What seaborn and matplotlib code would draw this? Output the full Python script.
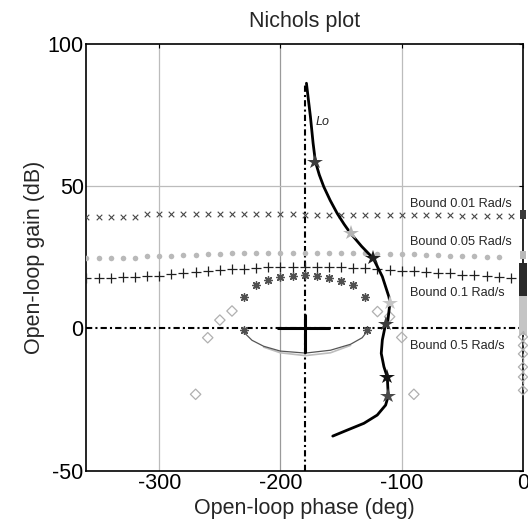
import numpy as np
import pandas as pd
import matplotlib
matplotlib.use("Agg")
import matplotlib.pyplot as plt
import seaborn as sns

# ---------------- data ----------------
# Bound 0.01 rad/s ('x' markers)
b001_phase = [-360, -350, -340, -330, -320, -310, -300, -290, -280, -270, -260, -250,
              -240, -230, -220, -210, -200, -190, -180, -170, -160, -150, -140, -130,
              -120, -110, -100, -90, -80, -70, -60, -50, -40, -30, -20, -10]
b001_gain = [39.3, 39.3, 39.3, 39.3, 39.3, 40.1, 40.1, 40.1, 40.1, 40.1, 40.1, 40.1,
             40.1, 40.1, 40.1, 40.1, 40.1, 40.1, 40.0, 39.9, 39.9, 39.9, 39.9, 39.9,
             39.9, 39.9, 39.9, 39.9, 39.9, 39.9, 39.9, 39.6, 39.6, 39.6, 39.5, 39.5]

# Bound 0.05 rad/s (dots)
b005_phase = [-360, -350, -340, -330, -320, -310, -300, -290, -280, -270, -260, -250,
              -240, -230, -220, -210, -200, -190, -180, -170, -160, -150, -140, -130,
              -120, -110, -100, -90, -80, -70, -60, -50, -40, -30, -20]
b005_gain = [24.8, 24.8, 24.8, 24.8, 24.8, 25.3, 25.3, 25.4, 25.7, 25.9, 26.1, 26.1,
             26.4, 26.4, 26.5, 26.5, 26.5, 26.5, 26.5, 26.5, 26.5, 26.5, 26.4, 26.4,
             26.3, 26.2, 26.1, 26.0, 25.9, 25.8, 25.6, 25.5, 25.3, 25.1, 25.0]

# Bound 0.1 rad/s ('+' markers)
b01_phase = b001_phase
b01_gain = [17.6, 17.6, 17.8, 18.2, 18.2, 18.5, 18.5, 19.0, 19.3, 19.7, 20.3, 20.5,
            20.7, 21.0, 21.1, 21.5, 21.5, 21.5, 21.5, 21.5, 21.5, 21.5, 21.1, 21.1,
            20.7, 20.5, 20.2, 20.2, 19.9, 19.5, 19.3, 18.9, 18.7, 18.3, 18.1, 17.8]

# Bound 0.5 rad/s (asterisks, closed by lower arc)
b05_phase = [-230, -230, -220, -210, -200, -190, -180, -170, -160, -150, -140, -130, -129]
b05_gain = [-0.6, 10.9, 15.1, 16.9, 17.9, 18.4, 18.6, 18.4, 17.8, 16.8, 15.1, 11.0, -0.6]
arc_phase = [-230.4, -223.5, -213.9, -200.1, -179.4, -158.8, -142.2, -132.6, -129.0]
arc_gain = [-1.3, -4.2, -6.3, -8.0, -8.7, -7.7, -5.6, -3.3, -1.3]
arc2_phase = [-213.9, -200.1, -179.4, -158.8, -142.2]
arc2_gain = [-6.6, -8.6, -9.6, -8.6, -6.0]

# Diamonds
dia_phase = [-240, -250, -260, -270, -120, -110, -100, -90]
dia_gain = [6.1, 2.9, -3.3, -23.2, 5.9, 4.1, -3.2, -23.2]

# Stacked bound points at phase 0 (right edge)
edge_x_gain = [40.6, 40.0, 39.4]
edge_dot_gain = [26.3, 25.8, 25.3]
edge_plus_gain = [21.6, 20.6, 19.6, 18.6, 17.6, 16.6, 15.6, 14.6, 13.6, 12.6, 11.6, 10.8]
edge_sq_gain = [10.0, 8.6, 7.2, 5.8, 4.4, 3.0, 1.6, 0.2, -1.0]
edge_dia_gain = [-3.0, -6.0, -9.0, -13.6, -17.1, -21.8]

# Open-loop Lo
lo_phase = [-178.6, -175.3, -173.1, -171.2, -168.0, -164.3, -159.0, -153.2, -147.5, -142.2,
            -133.0, -123.5, -116.0, -110.6, -109.7, -111.4, -113.3, -116.0, -116.9, -114.7,
            -111.9, -111.1, -113.3, -120.2, -131.2, -145.0, -156.9]
lo_gain = [86.2, 74.4, 65.1, 58.6, 54.0, 49.8, 45.0, 40.4, 36.6, 33.4,
           28.8, 24.6, 18.2, 11.1, 9.0, 2.9, 1.5, -4.1, -8.8, -13.5,
           -17.2, -23.8, -27.0, -30.5, -33.4, -35.8, -37.9]
star_phase = [-171.2, -142.2, -123.5, -109.7, -113.3, -111.9, -111.1]
star_gain = [58.6, 33.4, 24.6, 9.0, 1.5, -17.2, -23.8]
star_color = ["#3c3c3c", "#b4b4b4", "#1e1e1e", "#c4c4c4", "#3c3c3c", "#141414", "#4a4a4a"]

# Critical point cross
cross_h_phase = [-201.7, -160.4]
cross_h_gain = [0, 0]
cross_v_phase = [-180, -180]
cross_v_gain = [4.6, -8.3]

# Reference dash-dot lines
vline_gain = [-50, 86.2]
hline_phase = [-360, 0]

bound_labels = ["Bound 0.01 Rad/s", "Bound 0.05 Rad/s", "Bound 0.1 Rad/s", "Bound 0.5 Rad/s"]
bound_label_gain = [43.7, 30.5, 12.3, -6.2]

xticks = [-300, -200, -100, 0]
yticks = [-50, 0, 50, 100]

# ---------------- figure ----------------
sns.set_theme(style="white")
plt.rcParams["font.family"] = ["Liberation Sans", "DejaVu Sans"]
plt.rcParams["axes.unicode_minus"] = False

fig = plt.figure(figsize=(5.28, 5.27), dpi=100)
ax = fig.add_axes([0.1638, 0.1072, 0.8267, 0.8093])

ax.set_xlim(-360, 0)
ax.set_ylim(-50, 100)

# grid
for xv, c in zip([-300, -200, -100], ["#bcbcbc", "#9a9a9a", "#bcbcbc"]):
    ax.axvline(xv, color=c, lw=0.9, zorder=0)
ax.axhline(50, color="#bcbcbc", lw=0.9, zorder=0)

dashdot = (0, (3, 1.5, 1, 1.5))
sns.lineplot(x=[-180, -180], y=vline_gain, ax=ax, color="black", lw=1.5,
             linestyle=dashdot, estimator=None, sort=False, zorder=2)
sns.lineplot(x=hline_phase, y=[0, 0], ax=ax, color="black", lw=1.5,
             linestyle=dashdot, estimator=None, sort=False, zorder=2)

# bounds
sns.scatterplot(x=b001_phase, y=b001_gain, ax=ax, marker="x", color="#484848",
                s=16, linewidth=0.8, zorder=3)
sns.scatterplot(x=b005_phase, y=b005_gain, ax=ax, marker="o", color="#b9b9b9",
                s=16, linewidth=0, zorder=3)
sns.scatterplot(x=b01_phase, y=b01_gain, ax=ax, marker="+", color="#202020",
                s=45, linewidth=0.9, zorder=3)

# bound 0.5 arcs
sns.lineplot(x=arc2_phase, y=arc2_gain, ax=ax, color="#bdbdbd", lw=1.2,
             estimator=None, sort=False, zorder=3)
sns.lineplot(x=arc_phase, y=arc_gain, ax=ax, color="#555555", lw=0.9,
             estimator=None, sort=False, zorder=3)
sns.scatterplot(x=b05_phase, y=b05_gain, ax=ax, marker=(8, 2, 0), color="#505050",
                s=30, linewidth=1.0, zorder=3)
sns.scatterplot(x=dia_phase, y=dia_gain, ax=ax, marker="D", s=28,
                facecolor="none", edgecolor="#b0b0b0", linewidth=0.9, zorder=3)

# stacked points at the right edge
n = len
sns.scatterplot(x=[0] * n(edge_x_gain), y=edge_x_gain, ax=ax, marker="s", color="#3a3a3a",
                s=22, linewidth=0, zorder=4, clip_on=False)
sns.scatterplot(x=[0] * n(edge_dot_gain), y=edge_dot_gain, ax=ax, marker="s", color="#b9b9b9",
                s=22, linewidth=0, zorder=4, clip_on=False)
sns.scatterplot(x=[0] * n(edge_plus_gain), y=edge_plus_gain, ax=ax, marker="s", color="#2a2a2a",
                s=30, linewidth=0, zorder=4, clip_on=False)
sns.scatterplot(x=[0] * n(edge_sq_gain), y=edge_sq_gain, ax=ax, marker="s", color="#c4c4c4",
                s=30, linewidth=0, zorder=4, clip_on=False)
sns.lineplot(x=[0, 0], y=[edge_sq_gain[-1], edge_dia_gain[-1]], ax=ax, color="#9a9a9a",
             lw=1.0, linestyle=(0, (2, 2)), estimator=None, sort=False, zorder=4, clip_on=False)
sns.scatterplot(x=[0] * n(edge_dia_gain), y=edge_dia_gain, ax=ax, marker="D", s=22,
                facecolor="none", edgecolor="#b0b0b0", linewidth=0.9, zorder=4, clip_on=False)

# critical point cross
sns.lineplot(x=cross_h_phase, y=cross_h_gain, ax=ax, color="black", lw=2.2,
             estimator=None, sort=False, zorder=5)
sns.lineplot(x=cross_v_phase, y=cross_v_gain, ax=ax, color="black", lw=2.2,
             estimator=None, sort=False, zorder=5)

# Lo curve
sns.lineplot(x=lo_phase, y=lo_gain, ax=ax, color="black", lw=2.0,
             estimator=None, sort=False, zorder=6)
for p, g, c in zip(star_phase, star_gain, star_color):
    ax.plot(p, g, marker="*", color=c, markersize=11.5, markeredgewidth=0, zorder=7)
ax.text(-171.2, 72.7, "Lo", fontsize=9, style="italic", ha="left", va="center", zorder=8)

# bound labels
for lab, g in zip(bound_labels, bound_label_gain):
    ax.text(-93.5, g, lab, fontsize=9.2, ha="left", va="center", zorder=8,
            bbox=dict(facecolor="white", edgecolor="none", pad=1.0))

# axes styling
ax.set_xticks(xticks)
ax.set_yticks(yticks)
ax.tick_params(direction="in", length=3, width=0.8, top=True, right=True,
               labelsize=15.5, pad=2, colors="black")
for sp in ax.spines.values():
    sp.set_color("black")
    sp.set_linewidth(1.2)
ax.set_title("Nichols plot", fontsize=15.5, pad=12)
ax.set_xlabel("Open-loop phase (deg)", fontsize=15.5, labelpad=3)
ax.set_ylabel("Open-loop gain (dB)", fontsize=15.5, labelpad=2)
ax.grid(False)

fig.savefig("out.png", dpi=100)
